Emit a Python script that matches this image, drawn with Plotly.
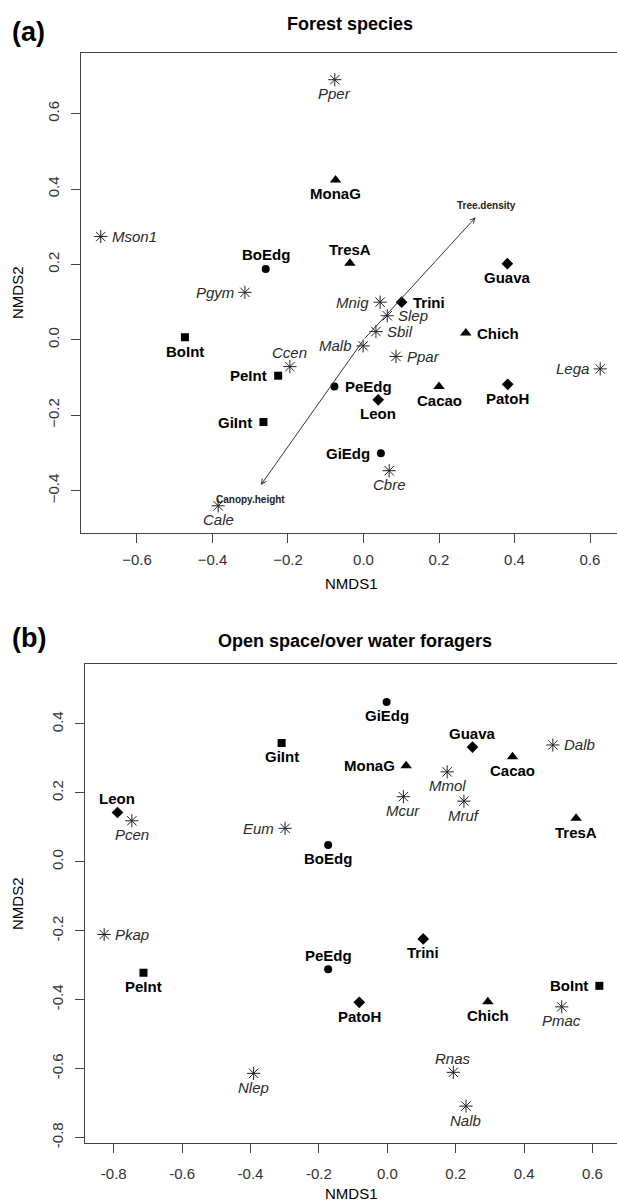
import plotly.graph_objects as go

# ---------------- data ----------------
# Panel (a): Forest species
sites_a = ["BoEdg", "BoInt", "PeInt", "GiInt", "MonaG", "TresA", "Guava",
           "Trini", "Chich", "PeEdg", "Leon", "Cacao", "PatoH", "GiEdg"]
sites_a_x = [-0.259, -0.473, -0.226, -0.265, -0.074, -0.036, 0.381,
             0.101, 0.271, -0.077, 0.039, 0.200, 0.382, 0.046]
sites_a_y = [0.188, 0.007, -0.095, -0.218, 0.424, 0.203, 0.202,
             0.100, 0.018, -0.124, -0.159, -0.124, -0.118, -0.301]

species_a = ["Pper", "Mson1", "Pgym", "Ccen", "Cale", "Mnig", "Slep",
             "Sbil", "Malb", "Ppar", "Lega", "Cbre"]
species_a_x = [-0.076, -0.696, -0.314, -0.195, -0.385, 0.044, 0.063,
               0.033, -0.001, 0.086, 0.627, 0.068]
species_a_y = [0.690, 0.274, 0.126, -0.071, -0.440, 0.100, 0.064,
               0.022, -0.016, -0.044, -0.077, -0.347]

env_names = ["Tree.density", "Canopy.height"]
env_x = [0.297, -0.272]
env_y = [0.325, -0.385]

# Panel (b): Open space/over water foragers
sites_b = ["Leon", "GiInt", "GiEdg", "Guava", "MonaG", "Cacao", "TresA",
           "BoEdg", "PeInt", "PeEdg", "Trini", "PatoH", "Chich", "BoInt"]
sites_b_x = [-0.789, -0.309, -0.002, 0.249, 0.055, 0.366, 0.552,
             -0.173, -0.713, -0.173, 0.105, -0.082, 0.294, 0.620]
sites_b_y = [0.143, 0.345, 0.464, 0.333, 0.279, 0.305, 0.126,
             0.049, -0.322, -0.312, -0.224, -0.408, -0.406, -0.360]

species_b = ["Pcen", "Eum", "Mmol", "Dalb", "Mcur", "Mruf", "Pkap",
             "Nlep", "Pmac", "Rnas", "Nalb"]
species_b_x = [-0.747, -0.299, 0.175, 0.484, 0.047, 0.224, -0.828,
               -0.391, 0.510, 0.193, 0.230]
species_b_y = [0.119, 0.097, 0.261, 0.339, 0.189, 0.176, -0.211,
               -0.614, -0.421, -0.611, -0.709]

# site groups (habitat type)
site_group = {
    "BoEdg": "edge", "PeEdg": "edge", "GiEdg": "edge",
    "BoInt": "interior", "PeInt": "interior", "GiInt": "interior",
    "MonaG": "tri", "TresA": "tri", "Chich": "tri", "Cacao": "tri",
    "Guava": "dia", "Trini": "dia", "PatoH": "dia", "Leon": "dia",
}

# tick values / labels
a_xticks = [-0.6, -0.4, -0.2, 0.0, 0.2, 0.4, 0.6]
a_xticktext = ["\u22120.6", "\u22120.4", "\u22120.2", "0.0", "0.2", "0.4", "0.6"]
a_yticks = [-0.4, -0.2, 0.0, 0.2, 0.4, 0.6]
a_yticktext = ["\u22120.4", "\u22120.2", "0.0", "0.2", "0.4", "0.6"]
b_xticks = [-0.8, -0.6, -0.4, -0.2, 0.0, 0.2, 0.4, 0.6]
b_xticktext = ["-0.8", "-0.6", "-0.4", "-0.2", "0.0", "0.2", "0.4", "0.6"]
b_yticks = [-0.8, -0.6, -0.4, -0.2, 0.0, 0.2, 0.4]
b_yticktext = ["-0.8", "-0.6", "-0.4", "-0.2", "0.0", "0.2", "0.4"]

# ---------------- label placement (style) ----------------
side_sites_a = {"BoEdg": "t", "BoInt": "b", "PeInt": "l", "GiInt": "l", "MonaG": "b",
                "TresA": "t", "Guava": "b", "Trini": "r", "Chich": "r", "PeEdg": "r",
                "Leon": "b", "Cacao": "b", "PatoH": "b", "GiEdg": "l"}
side_species_a = {"Pper": "b", "Mson1": "r", "Pgym": "l", "Ccen": "t", "Cale": "b",
                  "Mnig": "l", "Slep": "r", "Sbil": "r", "Malb": "l", "Ppar": "r",
                  "Lega": "l", "Cbre": "b"}
side_sites_b = {"Leon": "t", "GiInt": "b", "GiEdg": "b", "Guava": "t", "MonaG": "l",
                "Cacao": "b", "TresA": "b", "BoEdg": "b", "PeInt": "b", "PeEdg": "t",
                "Trini": "b", "PatoH": "b", "Chich": "b", "BoInt": "l"}
side_species_b = {"Pcen": "b", "Eum": "l", "Mmol": "b", "Dalb": "r", "Mcur": "b",
                  "Mruf": "b", "Pkap": "r", "Nlep": "b", "Pmac": "b", "Rnas": "t",
                  "Nalb": "b"}

FONT = "Liberation Sans, Arial, Helvetica, sans-serif"
W, H = 617, 1202
symbols = {"edge": ("circle", 8), "interior": ("square", 8),
           "tri": ("triangle-up", 10), "dia": ("diamond", 9)}

fig = go.Figure()
annotations = []


def add_panel(xref, yref, names, xs, ys, sp_names, sp_x, sp_y, side_s, side_sp):
    # sites grouped by symbol
    for grp, (sym, size) in symbols.items():
        gx = [x for n, x in zip(names, xs) if site_group[n] == grp]
        gy = [y for n, y in zip(names, ys) if site_group[n] == grp]
        fig.add_trace(go.Scatter(x=gx, y=gy, mode="markers", xaxis=xref, yaxis=yref,
                                 marker=dict(symbol=sym, size=size, color="black",
                                             line=dict(width=0)),
                                 showlegend=False, hoverinfo="skip"))
    fig.add_trace(go.Scatter(x=sp_x, y=sp_y, mode="markers", xaxis=xref, yaxis=yref,
                             marker=dict(symbol="asterisk-open", size=11, color="#222",
                                         line=dict(width=1, color="#222")),
                             showlegend=False, hoverinfo="skip"))

    def lab(n, x, y, side, font):
        d = dict(x=x, y=y, xref=xref, yref=yref, text=n, showarrow=False, font=font)
        if side == "t":
            d.update(yshift=14, xanchor="center", yanchor="middle")
        elif side == "b":
            d.update(yshift=-14, xanchor="center", yanchor="middle")
        elif side == "l":
            d.update(xshift=-9, xanchor="right", yanchor="middle")
        else:
            d.update(xshift=9, xanchor="left", yanchor="middle")
        annotations.append(d)

    for n, x, y in zip(names, xs, ys):
        lab(n, x, y, side_s[n], dict(family=FONT, size=15, color="black", weight="bold"))
    for n, x, y in zip(sp_names, sp_x, sp_y):
        lab(n, x, y, side_sp[n], dict(family=FONT, size=15, color="#2a2a2a", style="italic"))


add_panel("x", "y", sites_a, sites_a_x, sites_a_y, species_a, species_a_x, species_a_y,
          side_sites_a, side_species_a)
add_panel("x2", "y2", sites_b, sites_b_x, sites_b_y, species_b, species_b_x, species_b_y,
          side_sites_b, side_species_b)

# environmental vectors (from origin) in panel (a)
for n, x, y in zip(env_names, env_x, env_y):
    annotations.append(dict(x=x, y=y, ax=0, ay=0, xref="x", yref="y", axref="x", ayref="y",
                            showarrow=True, arrowhead=5, arrowsize=1, arrowwidth=1,
                            arrowcolor="#333", standoff=0, text=""))
    annotations.append(dict(x=x * 1.1, y=y * 1.1, xref="x", yref="y", text=n, showarrow=False,
                            xanchor="center", yanchor="middle",
                            font=dict(family=FONT, size=10, color="#222", weight="bold")))

# titles and axis titles (paper coords)
def P(px, py):
    return px / W, 1 - py / H


def paper_text(text, px, py, size, bold=False, angle=0, xanchor="center"):
    x, y = P(px, py)
    annotations.append(dict(x=x, y=y, xref="paper", yref="paper", text=text, showarrow=False,
                            xanchor=xanchor, yanchor="middle", textangle=angle,
                            font=dict(family=FONT, size=size, color="black",
                                      weight="bold" if bold else "normal")))


paper_text("(a)", 10, 32, 27, bold=True, xanchor="left")
paper_text("Forest species", 350, 24, 18, bold=True)
paper_text("NMDS1", 351, 583, 15)
paper_text("NMDS2", 17, 293, 15, angle=-90)
paper_text("(b)", 10, 638, 27, bold=True, xanchor="left")
paper_text("Open space/over water foragers", 355, 641, 18, bold=True)
paper_text("NMDS1", 351, 1193, 15)
paper_text("NMDS2", 17, 904, 15, angle=-90)

axis_common = dict(showgrid=False, zeroline=False, showline=True, linecolor="#444",
                   linewidth=1.3, ticks="outside", ticklen=9, tickwidth=1.2, tickcolor="#444",
                   tickfont=dict(family=FONT, size=15, color="#333"), automargin=False,
                   tickmode="array")

fig.update_layout(
    width=W, height=H, margin=dict(l=0, r=0, t=0, b=0),
    paper_bgcolor="white", plot_bgcolor="white", showlegend=False,
    xaxis=dict(axis_common, domain=[81.3 / W, 1], range=[-0.7475, 0.6715],
               tickvals=a_xticks, ticktext=a_xticktext, mirror=True, anchor="y",
               ticklabelstandoff=4),
    yaxis=dict(axis_common, domain=[1 - 533.3 / H, 1 - 53.3 / H], range=[-0.513, 0.760],
               tickvals=a_yticks, ticktext=a_yticktext, mirror=False, anchor="x",
               tickangle=-90, ticklabelstandoff=6),
    xaxis2=dict(axis_common, domain=[85 / W, 1], range=[-0.884, 0.6716],
                tickvals=b_xticks, ticktext=b_xticktext, mirror=True, anchor="y2",
                ticklabelstandoff=8),
    yaxis2=dict(axis_common, domain=[1 - 1143.3 / H, 1 - 664 / H], range=[-0.817, 0.574],
                tickvals=b_yticks, ticktext=b_yticktext, mirror=False, anchor="x2",
                tickangle=-90, ticklabelstandoff=6),
    annotations=annotations,
)

fig.write_html("out.html")
